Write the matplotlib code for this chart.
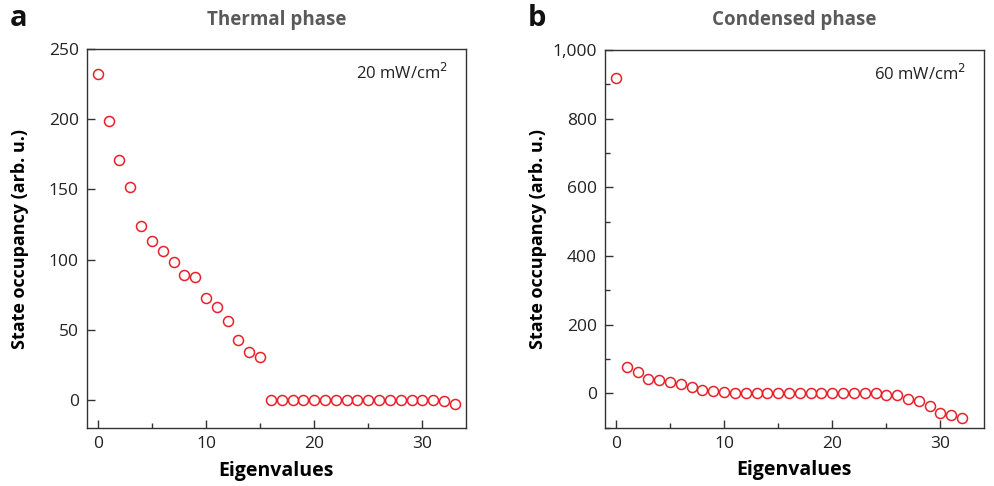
import numpy as np
import matplotlib
matplotlib.use('Agg')
import matplotlib.pyplot as plt
from matplotlib.ticker import MultipleLocator, FuncFormatter

plt.rcParams['font.family'] = ['Open Sans', 'DejaVu Sans']
plt.rcParams['font.size'] = 12

###############################
# state occupancy per eigenvalue index
thermal_idx = np.arange(34)
thermal_occ = [232, 199, 171, 152, 124, 113, 106, 98, 89, 88,
               73, 66, 56, 43, 34, 31, 0, 0, 0, 0,
               0, 0, 0, 0, 0, 0, 0, 0, 0, 0,
               0, 0, -1, -3]

condensed_idx = np.arange(33)
condensed_occ = [920, 77, 63, 43, 38, 32, 26, 18, 11, 7,
                 4, 0, 0, 0, 0, 0, 0, 0, 0, 0,
                 0, 0, 0, 0, 1, -5, -6, -15, -21, -36,
                 -56, -64, -71]

panels = [
    dict(letter='a', title='Thermal phase', power='20 mW/cm$^2$',
         x=thermal_idx, y=thermal_occ, ylim=(-20, 250),
         ymajor=50, yminor=None, rect=[0.0875, 0.119, 0.381, 0.780]),
    dict(letter='b', title='Condensed phase', power='60 mW/cm$^2$',
         x=condensed_idx, y=condensed_occ, ylim=(-100, 1000),
         ymajor=200, yminor=100, rect=[0.6087, 0.120, 0.381, 0.777]),
]

red = '#e8202a'
dark = '#333333'

fig = plt.figure(figsize=(9.94, 4.86), dpi=100)

for p in panels:
    ax = fig.add_axes(p['rect'])
    ax.plot(p['x'], p['y'], 'o', ms=7.2, mfc='none', mec=red, mew=1.1,
            linestyle='none')
    ax.set_xlim(-1, 34)
    ax.set_ylim(*p['ylim'])
    ax.xaxis.set_major_locator(MultipleLocator(10))
    ax.xaxis.set_minor_locator(MultipleLocator(5))
    ax.yaxis.set_major_locator(MultipleLocator(p['ymajor']))
    if p['yminor']:
        ax.yaxis.set_minor_locator(MultipleLocator(p['yminor']))
    ax.yaxis.set_major_formatter(FuncFormatter(lambda v, pos: f'{int(v):,}'))
    ax.tick_params(which='both', direction='in', top=False, right=False,
                   colors=dark, labelcolor='#222222', labelsize=12.5, width=1)
    ax.tick_params(which='major', length=6, pad=6)
    ax.tick_params(which='minor', length=3.5)
    for s in ax.spines.values():
        s.set_color(dark)
        s.set_linewidth(1.0)

    ax.set_xlabel('Eigenvalues', fontsize=14, fontweight='bold', labelpad=6)
    ax.set_ylabel('State occupancy (arb. u.)', fontsize=13, fontweight='bold')
    ax.yaxis.set_label_coords(-0.152, 0.5)
    ax.text(0.953, 0.937, p['power'], transform=ax.transAxes, ha='right',
            va='center', fontsize=12, color='#222222')

    x0, y0, w, h = p['rect']
    fig.text(x0 + w / 2, 0.958, p['title'], ha='center', va='center',
             fontsize=13.5, fontweight='bold', color='#5a5a5a')

fig.text(0.010, 0.962, 'a', ha='left', va='center', fontsize=21,
         fontweight='bold', color='#111111')
fig.text(0.531, 0.962, 'b', ha='left', va='center', fontsize=21,
         fontweight='bold', color='#111111')

plt.savefig('out.png', dpi=100)
